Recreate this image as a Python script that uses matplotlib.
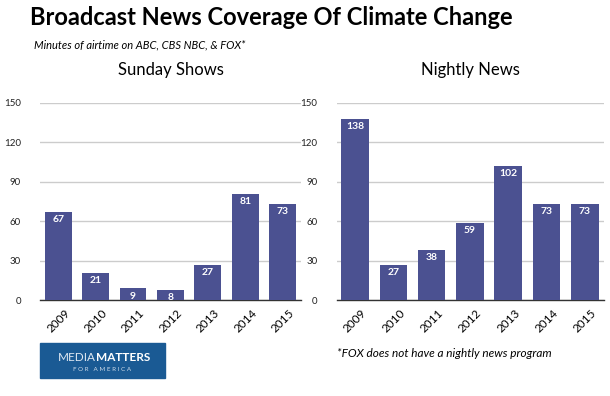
import matplotlib.pyplot as plt
from matplotlib.patches import Rectangle

years = ['2009', '2010', '2011', '2012', '2013', '2014', '2015']
sunday = [67, 21, 9, 8, 27, 81, 73]
nightly = [138, 27, 38, 59, 102, 73, 73]
yticks = [0, 30, 60, 90, 120, 150]

bar_color = '#4b5191'
plt.rcParams['font.family'] = ['Lato', 'DejaVu Sans']

fig = plt.figure(figsize=(6.1, 3.96), dpi=100)
ax1 = fig.add_axes([0.066, 0.242, 0.428, 0.498])
ax2 = fig.add_axes([0.552, 0.242, 0.438, 0.498])

for ax, vals, name in [(ax1, sunday, 'Sunday Shows'), (ax2, nightly, 'Nightly News')]:
    x = range(len(years))
    ax.bar(x, vals, width=0.72, color=bar_color, zorder=3)
    for xi, v in zip(x, vals):
        ax.text(xi, v - 2.5, str(v), ha='center', va='top', color='white',
                fontsize=7.5, fontweight='bold', zorder=4)
    ax.set_ylim(0, 150)
    ax.set_xlim(-0.48, 6.5)
    ax.set_yticks(yticks)
    ax.set_xticks(list(x))
    ax.set_xticklabels(years, rotation=45, fontsize=8.5, ha='center', va='top')
    ax.tick_params(axis='y', labelsize=7, length=0, pad=14, colors='#222222')
    ax.tick_params(axis='x', length=0, pad=5)
    ax.grid(axis='y', color='#cccccc', linewidth=1, zorder=0)
    for s in ['top', 'right', 'left']:
        ax.spines[s].set_visible(False)
    ax.spines['bottom'].set_color('#333333')
    ax.spines['bottom'].set_linewidth(1)
    ax.set_title(name, fontsize=12, pad=20)

fig.text(0.05, 0.955, 'Broadcast News Coverage Of Climate Change', fontsize=17,
         fontweight='bold', va='center', ha='left')
fig.text(0.055, 0.886, 'Minutes of airtime on ABC, CBS NBC, & FOX*', fontsize=8,
         style='italic', va='center', ha='left')
fig.text(0.553, 0.108, '*FOX does not have a nightly news program', fontsize=8.5,
         style='italic', va='center', ha='left')

# logo box
fig.patches.append(Rectangle((0.066, 0.045), 0.205, 0.088, transform=fig.transFigure,
                             color='#1a5a94', zorder=1))
fig.text(0.157, 0.098, 'MEDIA', fontsize=8.5, color='#dfe8f2', ha='right', va='center')
fig.text(0.157, 0.098, 'MATTERS', fontsize=8.5, color='white', fontweight='bold',
         ha='left', va='center')
fig.text(0.168, 0.066, 'F O R   A M E R I C A', fontsize=4.5, color='#cfdcea',
         ha='center', va='center')

fig.savefig('out.png', dpi=100)
